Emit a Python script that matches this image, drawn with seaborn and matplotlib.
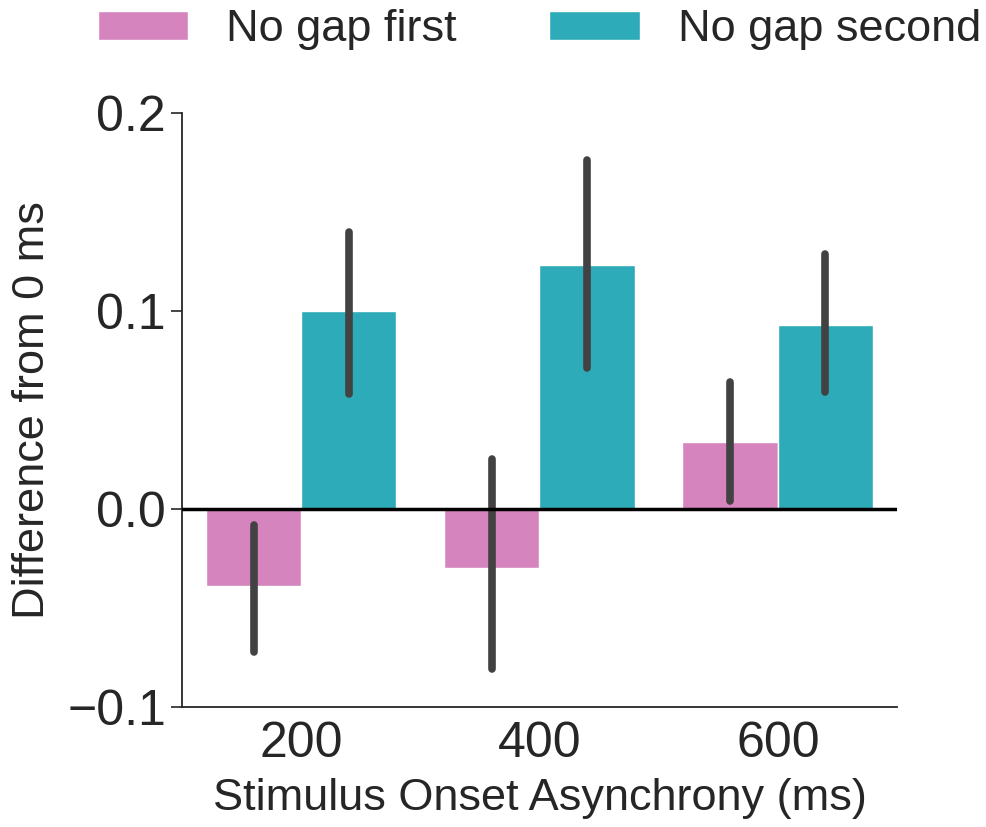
import matplotlib
matplotlib.use("Agg")
import matplotlib.pyplot as plt
import pandas as pd
import seaborn as sns

soa = ["200", "400", "600"]
conditions = ["No gap first", "No gap second"]
mean_first = [-0.039, -0.030, 0.034]
mean_second = [0.100, 0.123, 0.093]
lo_first = [-0.072, -0.081, 0.004]
hi_first = [-0.008, 0.025, 0.064]
lo_second = [0.058, 0.071, 0.059]
hi_second = [0.140, 0.176, 0.129]

df = pd.DataFrame({
    "SOA": soa * 2,
    "Condition": [conditions[0]] * 3 + [conditions[1]] * 3,
    "Difference": mean_first + mean_second,
})

sns.set_style("ticks")
plt.rcParams["font.family"] = ["Liberation Sans", "DejaVu Sans"]

fig = plt.figure(figsize=(9.87, 8.27), dpi=100)
ax = fig.add_axes([0.1844, 0.1451, 0.7244, 0.7183])

sns.barplot(data=df, x="SOA", y="Difference", hue="Condition", order=soa,
            hue_order=conditions, palette=["tab:pink", "tab:cyan"],
            errorbar=None, ax=ax)

# error bars drawn at the bar centres
lows = [lo_first, lo_second]
highs = [hi_first, hi_second]
for cont, lo, hi in zip(ax.containers, lows, highs):
    for bar, l, h in zip(cont, lo, hi):
        xc = bar.get_x() + bar.get_width() / 2
        ax.plot([xc, xc], [l, h], color=".26", lw=5.5, solid_capstyle="round", zorder=3)

ax.axhline(0, color="black", lw=2.5, zorder=4)
ax.set_xlim(-0.5, 2.5)
ax.set_ylim(-0.1, 0.2)
ax.set_yticks([-0.1, 0.0, 0.1, 0.2])
ax.set_yticklabels(["\u22120.1", "0.0", "0.1", "0.2"])
ax.tick_params(axis="y", labelsize=36, width=1.2, length=8)
ax.tick_params(axis="x", labelsize=36, length=0, pad=10)
ax.set_xlabel("Stimulus Onset Asynchrony (ms)", fontsize=32.5, labelpad=8)
ax.set_ylabel("Difference from 0 ms", fontsize=32.5, labelpad=10)
for s in ["left", "bottom"]:
    ax.spines[s].set_linewidth(1.3)
sns.despine(ax=ax)

ax.legend(loc="center", bbox_to_anchor=(0.5, 1.14), ncol=2, frameon=False,
          fontsize=32.5, handlelength=2.0, handleheight=0.6,
          handletextpad=0.85, columnspacing=2.05)

fig.savefig("out.png", dpi=100)
